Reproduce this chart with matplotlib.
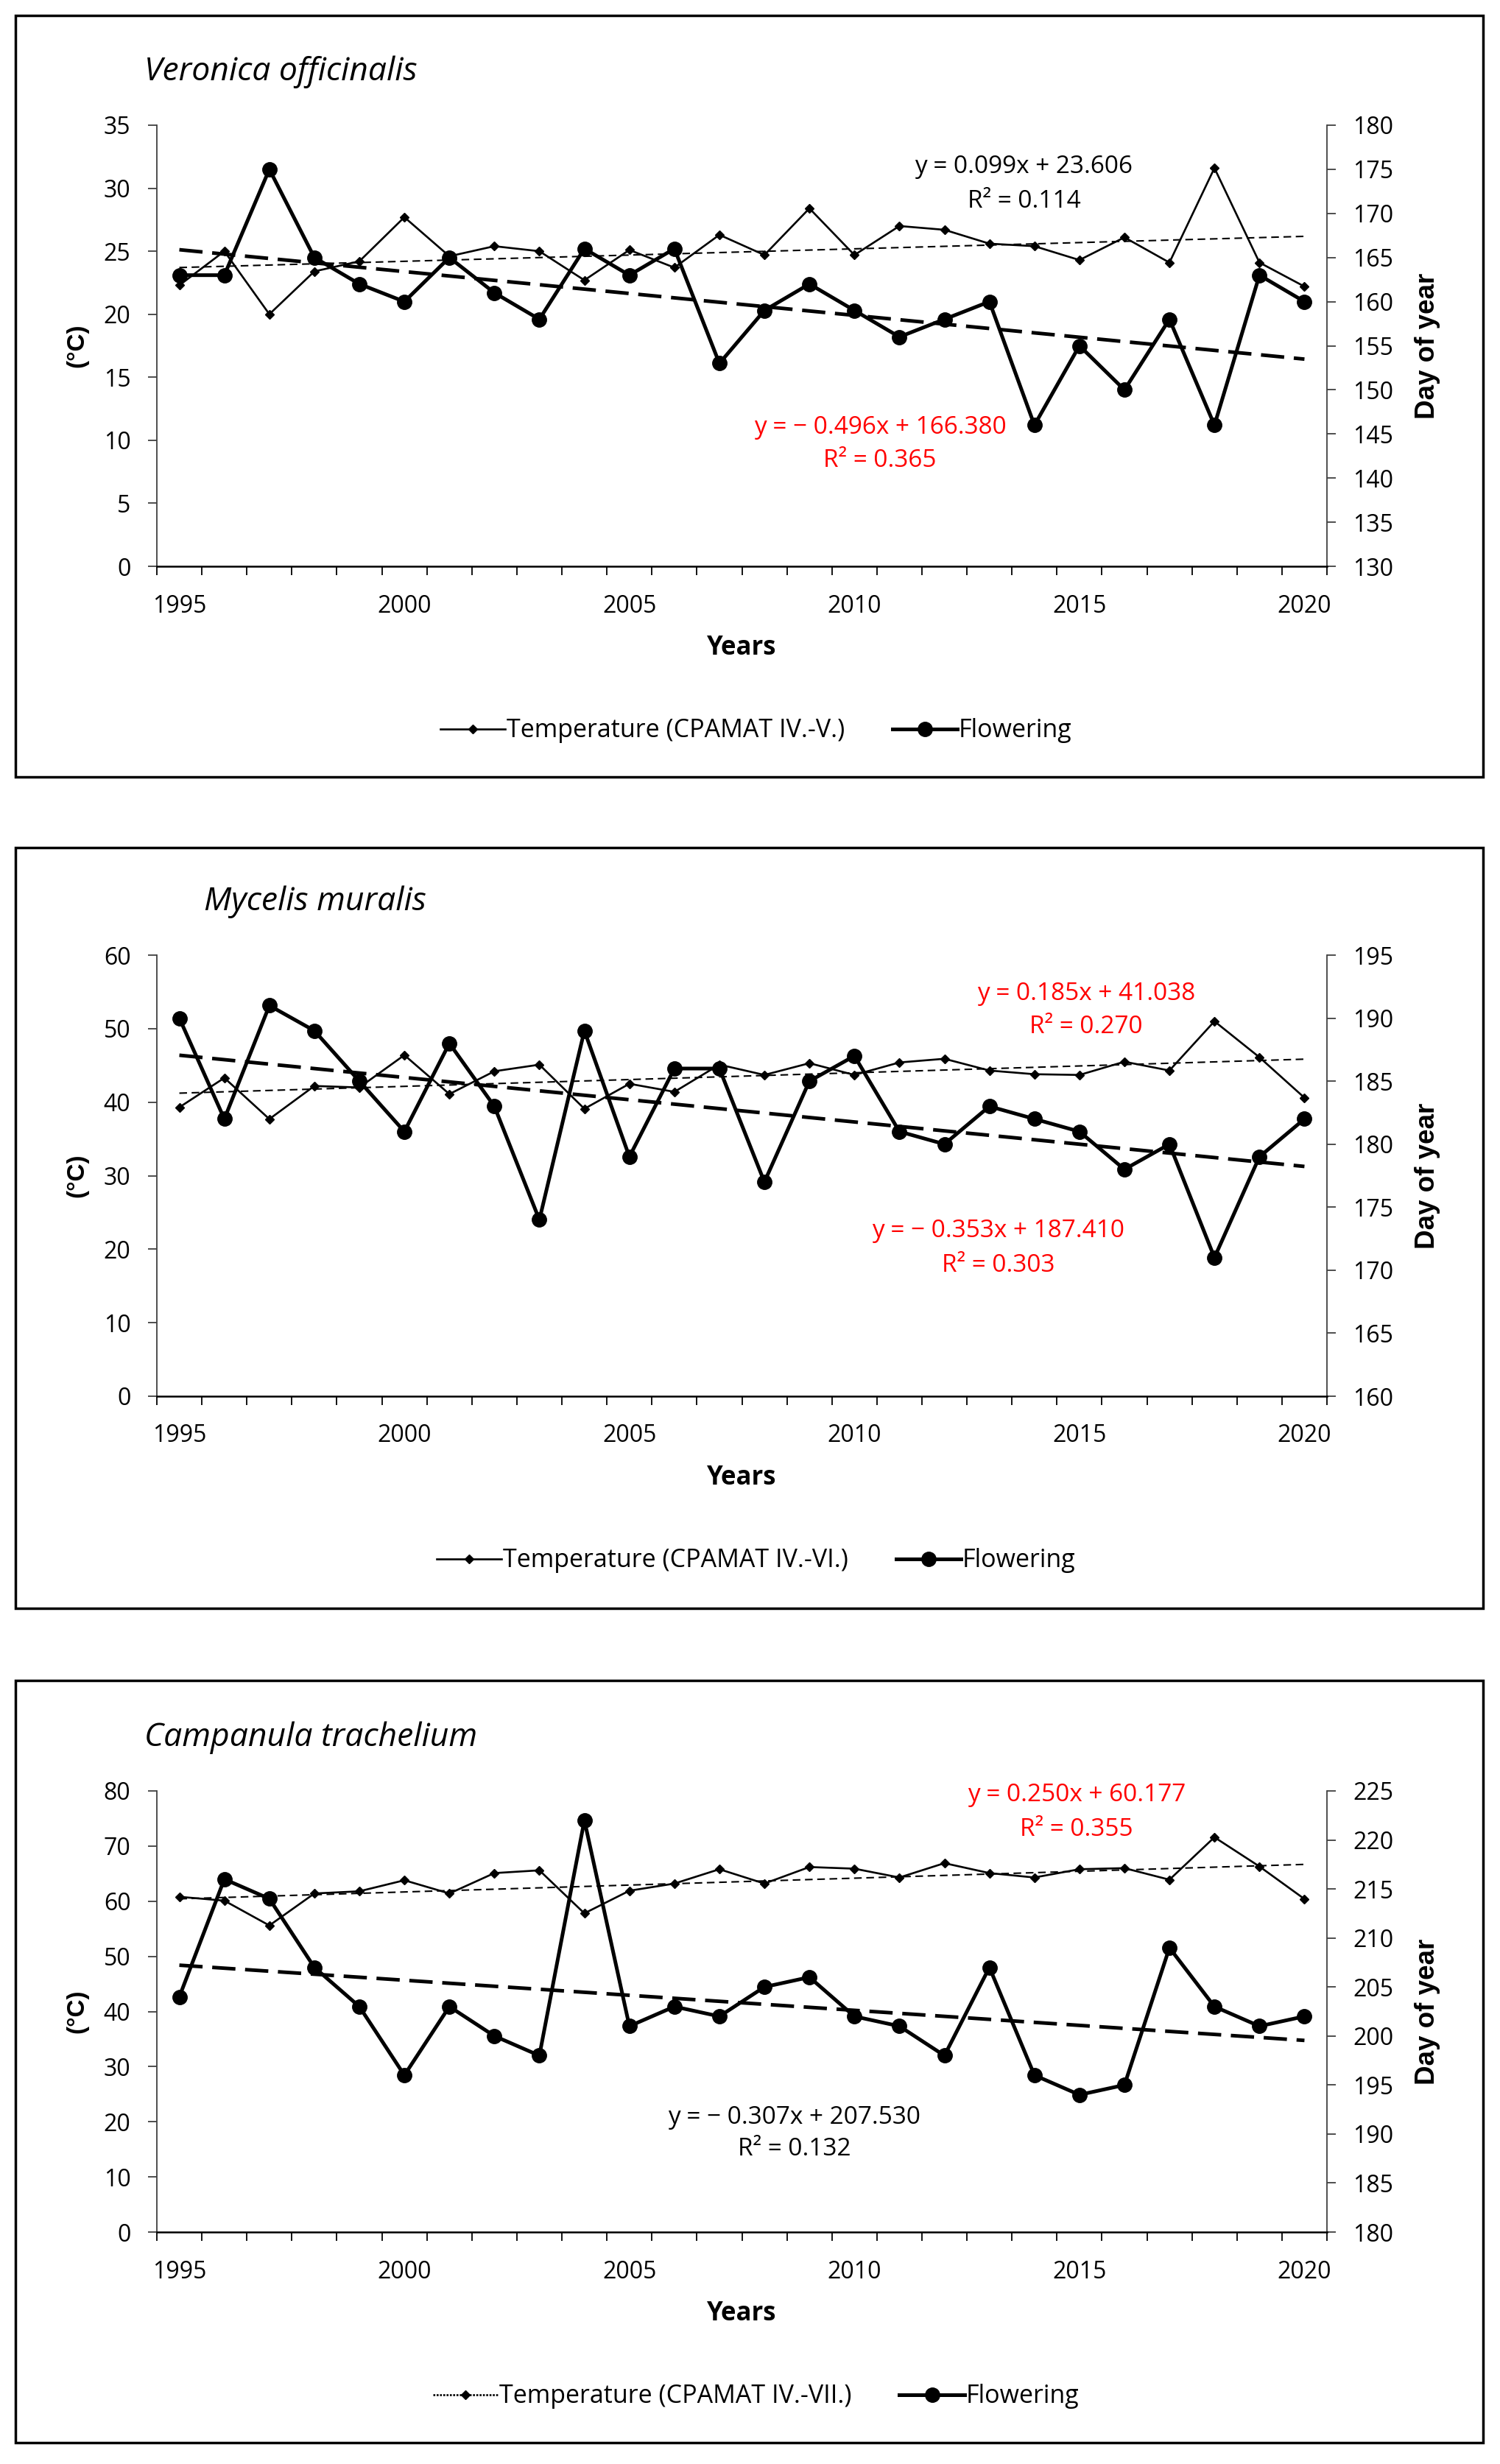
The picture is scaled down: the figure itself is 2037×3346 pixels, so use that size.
import matplotlib
matplotlib.use('Agg')
import matplotlib.pyplot as plt
from matplotlib.lines import Line2D
from matplotlib.patches import Rectangle
import numpy as np

plt.rcParams['font.family'] = ['Open Sans', 'DejaVu Sans']

# ---------------- data ----------------
years = list(range(1995, 2021))

# Veronica officinalis
vo_temp = [22.3, 25.0, 20.0, 23.4, 24.2, 27.7, 24.6, 25.4, 25.0, 22.7, 25.1, 23.7, 26.3,
           24.7, 28.4, 24.7, 27.0, 26.7, 25.6, 25.4, 24.3, 26.1, 24.1, 31.6, 24.1, 22.2]
vo_flow = [163, 163, 175, 165, 162, 160, 165, 161, 158, 166, 163, 166, 153,
           159, 162, 159, 156, 158, 160, 146, 155, 150, 158, 146, 163, 160]
vo_temp_fit = (0.099, 23.606)
vo_flow_fit = (-0.496, 166.380)

# Mycelis muralis
mm_temp = [39.3, 43.3, 37.7, 42.2, 42.0, 46.4, 41.1, 44.2, 45.1, 39.1, 42.5, 41.4, 45.1,
           43.7, 45.3, 43.7, 45.4, 45.9, 44.3, 43.8, 43.7, 45.5, 44.3, 51.0, 46.1, 40.6]
mm_flow = [190, 182, 191, 189, 185, 181, 188, 183, 174, 189, 179, 186, 186,
           177, 185, 187, 181, 180, 183, 182, 181, 178, 180, 171, 179, 182]
mm_temp_fit = (0.185, 41.038)
mm_flow_fit = (-0.353, 187.410)

# Campanula trachelium
ct_temp = [60.8, 60.1, 55.6, 61.4, 61.8, 63.8, 61.4, 65.1, 65.6, 57.8, 61.9, 63.2, 65.8,
           63.2, 66.2, 65.9, 64.3, 66.9, 65.1, 64.3, 65.8, 66.0, 63.9, 71.6, 66.3, 60.4]
ct_flow = [204, 216, 214, 207, 203, 196, 203, 200, 198, 222, 201, 203, 202,
           205, 206, 202, 201, 198, 207, 196, 194, 195, 209, 203, 201, 202]
ct_temp_fit = (0.250, 60.177)
ct_flow_fit = (-0.307, 207.530)

titles = ['Veronica officinalis', 'Mycelis muralis', 'Campanula trachelium']
temp_labels = ['Temperature (CPAMAT IV.-V.)', 'Temperature (CPAMAT IV.-VI.)',
               'Temperature (CPAMAT IV.-VII.)']
temp_ranges = [(0, 35, 5), (0, 60, 10), (0, 80, 10)]
flow_ranges = [(130, 180, 5), (160, 195, 5), (180, 225, 5)]

# ---------------- layout ----------------
W, H = 2037, 3346
fig = plt.figure(figsize=(W / 100, H / 100), dpi=100)

ax_left_px, ax_right_px = 213, 1802
ax_tops = [170, 1297, 2432]
ax_h_px = 599
borders = [(21, 21, 2014, 1055), (21, 1151, 2014, 2184), (21, 2282, 2014, 3317)]
title_x = [-0.0107, 0.040, -0.0107]

# equation text positions (axes fraction) and colours
eq_info = [
    [((0.741, 0.906), (0.741, 0.828), 'black', vo_temp_fit, 0.114),
     ((0.618, 0.314), (0.618, 0.239), 'red', vo_flow_fit, 0.365)],
    [((0.794, 0.913), (0.794, 0.837), 'red', mm_temp_fit, 0.270),
     ((0.719, 0.375), (0.719, 0.297), 'red', mm_flow_fit, 0.303)],
    [((0.786, 0.990), (0.786, 0.912), 'red', ct_temp_fit, 0.355),
     ((0.545, 0.259), (0.545, 0.187), 'black', ct_flow_fit, 0.132)],
]

temps = [vo_temp, mm_temp, ct_temp]
flows = [vo_flow, mm_flow, ct_flow]
temp_fits = [vo_temp_fit, mm_temp_fit, ct_temp_fit]
flow_fits = [vo_flow_fit, mm_flow_fit, ct_flow_fit]

TICK = 23
BOLD_FAM = ['Liberation Sans', 'DejaVu Sans']


def fmt_eq(fit):
    a, b = fit
    if a < 0:
        return f'y = \u2212 {abs(a):.3f}x + {b:.3f}'
    return f'y = {a:.3f}x + {b:.3f}'


for i in range(3):
    # panel border
    x0, y0, x1, y1 = borders[i]
    fig.patches.append(Rectangle((x0 / W, 1 - y1 / H), (x1 - x0) / W, (y1 - y0) / H,
                                 transform=fig.transFigure, fill=False,
                                 edgecolor='black', lw=2.5))

    bottom = 1 - (ax_tops[i] + ax_h_px) / H
    ax = fig.add_axes([ax_left_px / W, bottom, (ax_right_px - ax_left_px) / W, ax_h_px / H])
    ax2 = ax.twinx()
    ax.set_zorder(2)
    ax.patch.set_visible(False)

    x = np.arange(len(years))
    t = temps[i]
    f = flows[i]
    ta, tb = temp_fits[i]
    fa, fb = flow_fits[i]

    ax.plot(x, t, color='black', lw=1.9, marker='D', ms=6.5, zorder=3)
    ax.plot(x, ta * (x + 1) + tb, color='black', lw=1.5, dashes=(5, 3), zorder=2)
    ax2.plot(x, f, color='black', lw=3.6, marker='o', ms=14, zorder=3)
    ax2.plot(x, fa * (x + 1) + fb, color='black', lw=3.5, dashes=(6.5, 2.7), zorder=2)

    tmin, tmax, tstep = temp_ranges[i]
    fmin, fmax, fstep = flow_ranges[i]
    ax.set_xlim(-0.5, len(years) - 0.5)
    ax.set_ylim(tmin, tmax)
    ax.set_yticks(np.arange(tmin, tmax + 1, tstep))
    ax2.set_ylim(fmin, fmax)
    ax2.set_yticks(np.arange(fmin, fmax + 1, fstep))

    # x axis: ticks between categories, labels every 5 years
    ax.set_xticks(np.arange(-0.5, len(years), 1.0))
    ax.set_xticklabels([])
    lab_pos = [k for k, y in enumerate(years) if y % 5 == 0]
    ax.set_xticks(lab_pos, minor=True)
    ax.set_xticklabels([str(years[k]) for k in lab_pos], minor=True)
    ax.tick_params(axis='x', which='major', direction='out', length=8.6, width=1.3,
                   color='black')
    ax.tick_params(axis='x', which='minor', length=0, pad=27, labelsize=TICK)
    ax.tick_params(axis='y', direction='out', length=8.6, width=1.3, pad=17,
                   labelsize=TICK, color='#404040')
    ax2.tick_params(axis='y', direction='out', length=8.6, width=1.3, pad=17,
                    labelsize=TICK, color='#404040')

    for s in ['top', 'right']:
        ax.spines[s].set_visible(False)
    for s in ['top', 'left', 'bottom']:
        ax2.spines[s].set_visible(False)
    ax.spines['left'].set_color('#404040')
    ax.spines['left'].set_linewidth(1.3)
    ax2.spines['right'].set_color('#404040')
    ax2.spines['right'].set_linewidth(1.3)
    ax.spines['bottom'].set_linewidth(1.8)

    # labels
    ax.text(-0.068, 0.5, '(°C)', transform=ax.transAxes, rotation=90, ha='center',
            va='center', fontsize=24, fontweight='bold', family=BOLD_FAM)
    ax.text(1.086, 0.5, 'Day of year', transform=ax.transAxes, rotation=90, ha='center',
            va='center', fontsize=26.5, fontweight='bold', family=BOLD_FAM)
    ax.text(0.5, -0.186, 'Years', transform=ax.transAxes, ha='center', va='center',
            fontsize=25, fontweight='bold')
    ax.text(title_x[i], 1.102, titles[i], transform=ax.transAxes, ha='left',
            va='baseline', fontsize=32, style='italic')

    # equations
    for (p_eq, p_r2, col, fit, r2) in eq_info[i]:
        ax.text(p_eq[0], p_eq[1], fmt_eq(fit), transform=ax.transAxes, ha='center',
                va='center', fontsize=24, color=col)
        ax.text(p_r2[0], p_r2[1], f'R\u00b2 = {r2:.3f}', transform=ax.transAxes,
                ha='center', va='center', fontsize=24, color=col)

    # legend
    tls = (0, (1, 0.7)) if i == 2 else '-'
    h_t = Line2D([], [], color='black', lw=1.9, ls=tls, marker='D', ms=6.5)
    h_f = Line2D([], [], color='black', lw=3.6, marker='o', ms=14)
    ax.legend([h_t, h_f], [temp_labels[i], 'Flowering'], loc='center',
              bbox_to_anchor=(0.512, -0.373), ncol=2, frameon=False, fontsize=24.5,
              handlelength=2.6, handletextpad=0.05, columnspacing=1.9)

fig.savefig('out.png', dpi=100, facecolor='white')
